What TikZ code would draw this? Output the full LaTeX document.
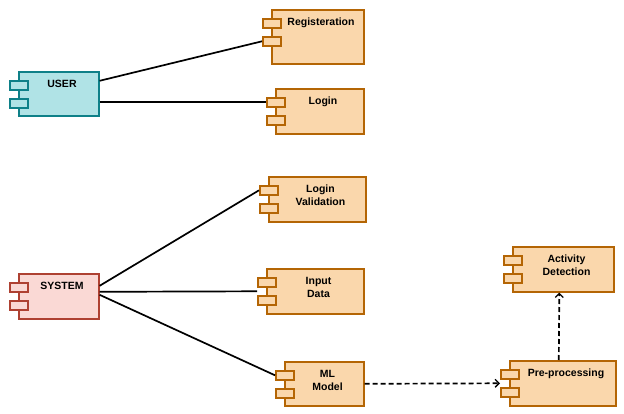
\documentclass[tikz,border=0pt]{standalone}
\usepackage{fontspec}
\setmainfont{Liberation Sans}
\usetikzlibrary{arrows.meta}

% component colours
\definecolor{userfill}{HTML}{B0E3E6}
\definecolor{userline}{HTML}{0E8088}
\definecolor{sysfill}{HTML}{FAD9D5}
\definecolor{sysline}{HTML}{AE4132}
\definecolor{modfill}{HTML}{FAD7AC}
\definecolor{modline}{HTML}{B46504}

\tikzset{
  user/.style={draw=userline, fill=userfill, line width=1.6pt, inner sep=0pt},
  sys/.style={draw=sysline, fill=sysfill, line width=1.6pt, inner sep=0pt},
  mod/.style={draw=modline, fill=modfill, line width=1.6pt, inner sep=0pt},
  port/.style={minimum width=18pt, minimum height=9pt},
  comptext/.style={inner sep=0pt, align=center, font=\bfseries\fontsize{10.5}{13}\selectfont},
  link/.style={line width=1.7pt, black},
  dep/.style={line width=1.7pt, black, dash pattern=on 5pt off 3pt,
              -{Straight Barb[length=4pt,width=8pt,line width=1.3pt]}},
}

% UML component: name, style, left, top, right, bottom, text
\newcommand\umlcomp[7]{%
  \node[#2, minimum width={#5-#3}, minimum height={#6-#4}, anchor=north west] (#1) at (#3,#4) {};
  \node[#2, port, anchor=north west] (#1-a) at ({#3-9},{#4+9}) {};
  \node[#2, port, anchor=north west] (#1-b) at ({#3-9},{#4+27}) {};
  \node[comptext, anchor=north] (#1-t) at ({(#3+#5)/2+4},{#4+9}) {#7};
}

\begin{document}
\begin{tikzpicture}[x=1pt, y=-1pt]
  \useasboundingbox (0,0) rectangle (624,414);

  % actors
  \umlcomp{user}{user}{18}{71}{98}{115}{USER}
  \umlcomp{sys}{sys}{18}{273}{98}{318}{SYSTEM}

  % modules
  \umlcomp{reg}{mod}{271}{9}{363}{63}{Registeration}
  \umlcomp{login}{mod}{275}{88}{363}{133}{Login}
  \umlcomp{lv}{mod}{268}{176}{365}{221}{Login\\Validation}
  \umlcomp{inp}{mod}{266}{268}{363}{313}{Input\\Data}
  \umlcomp{ml}{mod}{284}{361}{363}{405}{ML\\Model}
  \umlcomp{ad}{mod}{512}{246}{613}{291}{Activity\\Detection}
  \umlcomp{pp}{mod}{509}{360}{615}{405}{Pre-processing}

  % associations
  \draw[link] ([yshift=13pt]user.east) -- (reg-b.west);
  \draw[link] (user.east |- login-a.west) -- (login-a.west);
  \draw[link] ([yshift=10.5pt]sys.east) -- (lv-a.west);
  \draw[link] ([yshift=4.5pt]sys.east) -- (inp-a.west |- inp.west);
  \draw[link] ([yshift=1.5pt]sys.east) -- (ml-a.west);

  % dependencies
  \draw[dep] (ml.east) -- (pp-a.west |- pp.west);
  \draw[dep] ([xshift=-4pt]pp.north) -- ([xshift=-4pt]ad.south);
\end{tikzpicture}
\end{document}
